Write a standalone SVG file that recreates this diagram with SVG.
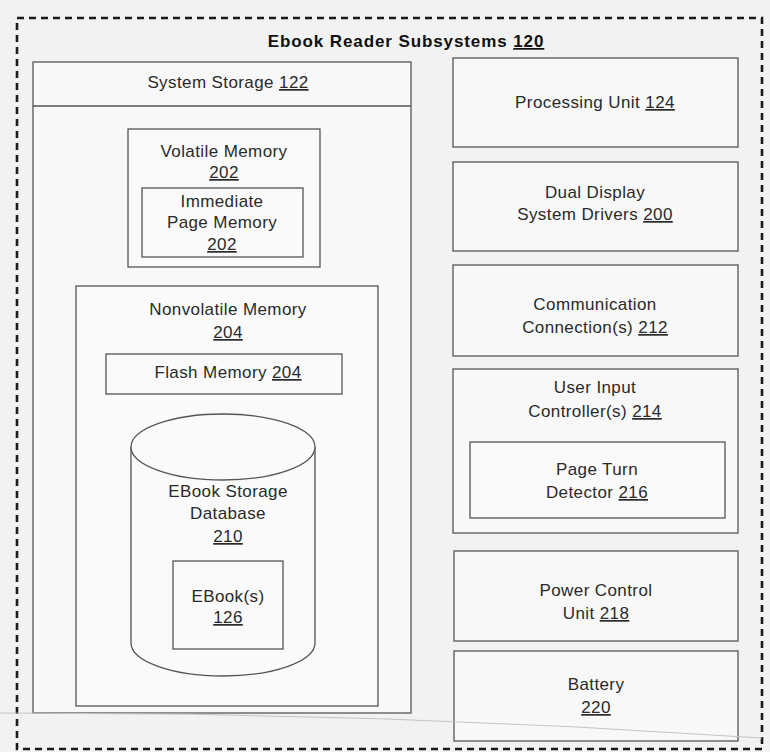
<svg xmlns="http://www.w3.org/2000/svg" width="770" height="752" viewBox="0 0 770 752">
<style>
text{font-family:"Liberation Sans","Noto Sans",Arial,sans-serif;font-size:17px;letter-spacing:0.4px;fill:#2a2a2a;text-anchor:middle}
.title{font-weight:bold;font-size:17px;letter-spacing:0.9px;fill:#111}
.u{text-decoration:underline}
.box{fill:#f8f8f8;stroke:#555;stroke-width:1.3}
.inner{fill:#fafafa;stroke:#555;stroke-width:1.3}
.dash{fill:none;stroke:#1a1a1a;stroke-width:2.6;stroke-dasharray:7 5}
</style>
<rect x="0" y="0" width="770" height="752" fill="#f2f2f2"/>
<g id="subsystems">
<rect class="dash" x="17" y="18" width="745" height="731"/>
<text class="title" x="406" y="47">Ebook Reader Subsystems <tspan class="u">120</tspan></text>
</g>
<g id="system-storage">
<rect class="box" x="33" y="62" width="378" height="651"/>
<line x1="33" y1="106" x2="411" y2="106" stroke="#555" stroke-width="1.3"/>
<text x="228" y="88">System Storage <tspan class="u">122</tspan></text>
</g>
<g id="volatile-memory">
<rect class="inner" x="128" y="129" width="192" height="138"/>
<text x="224" y="157">Volatile Memory</text>
<text x="224" y="178" class="u">202</text>
</g>
<g id="immediate-page-memory">
<rect class="inner" x="142" y="188" width="161" height="69"/>
<text x="222" y="207">Immediate</text>
<text x="222" y="228">Page Memory</text>
<text x="222" y="250" class="u">202</text>
</g>
<g id="nonvolatile-memory">
<rect class="inner" x="76" y="286" width="302" height="420"/>
<text x="228" y="315">Nonvolatile Memory</text>
<text x="228" y="338" class="u">204</text>
</g>
<g id="flash-memory">
<rect class="inner" x="106" y="354" width="236" height="40"/>
<text x="228" y="378">Flash Memory <tspan class="u">204</tspan></text>
</g>
<g id="ebook-storage-database">
<path d="M131,447 L131,643 A92,33 0 0 0 315,643 L315,447" fill="#fafafa" stroke="#555" stroke-width="1.3"/>
<ellipse cx="223" cy="447" rx="92" ry="33" fill="#fafafa" stroke="#555" stroke-width="1.3"/>
<text x="228" y="497">EBook Storage</text>
<text x="228" y="519">Database</text>
<text x="228" y="542" class="u">210</text>
</g>
<g id="ebooks">
<rect class="inner" x="173" y="561" width="110" height="88"/>
<text x="228" y="602">EBook(s)</text>
<text x="228" y="623" class="u">126</text>
</g>
<g id="processing-unit">
<rect class="box" x="453" y="58" width="285" height="89"/>
<text x="595" y="108">Processing Unit <tspan class="u">124</tspan></text>
</g>
<g id="dual-display">
<rect class="box" x="453" y="162" width="285" height="89"/>
<text x="595" y="198">Dual Display</text>
<text x="595" y="220">System Drivers <tspan class="u">200</tspan></text>
</g>
<g id="communication">
<rect class="box" x="453" y="265" width="285" height="91"/>
<text x="595" y="310">Communication</text>
<text x="595" y="333">Connection(s) <tspan class="u">212</tspan></text>
</g>
<g id="user-input">
<rect class="box" x="453" y="369" width="285" height="164"/>
<text x="595" y="393">User Input</text>
<text x="595" y="417">Controller(s) <tspan class="u">214</tspan></text>
</g>
<g id="page-turn-detector">
<rect class="inner" x="470" y="442" width="255" height="76"/>
<text x="597" y="475">Page Turn</text>
<text x="597" y="498">Detector <tspan class="u">216</tspan></text>
</g>
<g id="power-control">
<rect class="box" x="454" y="551" width="284" height="90"/>
<text x="596" y="596">Power Control</text>
<text x="596" y="619">Unit <tspan class="u">218</tspan></text>
</g>
<g id="battery">
<rect class="box" x="454" y="651" width="284" height="90"/>
<text x="596" y="690">Battery</text>
<text x="596" y="713" class="u">220</text>
</g>
<g id="connectors"></g>
<path d="M0,713 Q380,712 762,738" fill="none" stroke="#c4c4c4" stroke-width="1"/>
</svg>
